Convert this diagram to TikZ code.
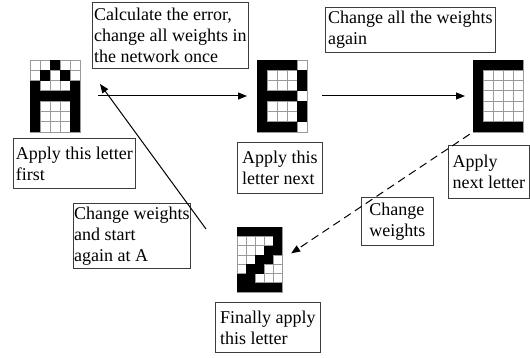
\documentclass[tikz,border=0pt]{standalone}
\usepackage{fontspec}
\setmainfont{Liberation Serif}
\usepackage{xcolor}
\usetikzlibrary{calc,arrows.meta}
\definecolor{ink}{HTML}{000000}
\definecolor{frame}{HTML}{3C3C3C}
\definecolor{cellline}{HTML}{9A9A9A}
\tikzset{
  note/.style={draw=frame, line width=0.8pt, anchor=north west, align=left, inner sep=0pt, text=ink, font=\fontsize{18}{21}\selectfont},
  glyph/.style={inner sep=0pt, outer sep=0pt},
  cell/.style={draw=cellline, line width=0.8pt, fill=white},
  arr/.style={draw=ink, line width=1pt, -{Triangle[length=9pt,width=7pt]}},
  dasharr/.style={arr, dash pattern=on 8pt off 5pt},
}
% 5x7 bitmap over a glyph node: node, cell width, cell height, black cells col/row
\newcommand\bitmap[4]{%
  \begin{scope}[shift={(#1.north west)}]
    \foreach \col in {1,...,5}
      \foreach \row in {1,...,7}
        \draw[cell] ({(\col-1)*#2},{(\row-1)*#3}) rectangle ++(#2,#3);
    \foreach \col/\row in {#4}
      \fill[ink] ({(\col-1)*#2},{(\row-1)*#3}) rectangle ++(#2,#3);
  \end{scope}}

\begin{document}
\begin{tikzpicture}[x=1pt,y=-1pt]
  \fill[white] (0,0) rectangle (530,358);
  \useasboundingbox (0,0) rectangle (530,358);
  % the four letters
  \node[glyph, minimum width=50pt, minimum height=72pt] (letA) at (55,96) {};
  \node[glyph, minimum width=50pt, minimum height=72pt] (letB) at (282,96) {};
  \node[glyph, minimum width=50pt, minimum height=72pt] (letC) at (498,96) {};
  \node[glyph, minimum width=45pt, minimum height=65pt] (letZ) at (259.5,259.5) {};
  \bitmap{letA}{10}{10.3}{3/1, 2/2,4/2, 1/3,5/3, 1/4,2/4,3/4,4/4,5/4, 1/5,5/5, 1/6,5/6, 1/7,5/7}
  \bitmap{letB}{10}{10.3}{1/1,2/1,3/1,4/1, 1/2,5/2, 1/3,5/3, 1/4,2/4,3/4,4/4, 1/5,5/5, 1/6,5/6, 1/7,2/7,3/7,4/7}
  \bitmap{letC}{10}{10.3}{1/1,2/1,3/1,4/1,5/1, 1/2,1/3,1/4,1/5,1/6, 1/7,2/7,3/7,4/7,5/7}
  \bitmap{letZ}{9}{9.3}{1/1,2/1,3/1,4/1,5/1, 5/2, 4/3,5/3, 3/4,4/4, 2/5,3/5, 1/6,2/6, 1/7,2/7,3/7,4/7,5/7}
  % text boxes
  \node[note, minimum width=156pt, minimum height=66pt] (calc) at (92,2) {Calculate the error,\\change all weights in\\the network once};
  \node[note, minimum width=170pt, minimum height=45pt] (again) at (325,7) {Change all the weights\\again};
  \node[note, minimum width=122pt, minimum height=50pt] (first) at (13,138) {Apply this letter\\first};
  \node[note, minimum width=85pt, minimum height=51pt] (next) at (237,142) {Apply this\\letter next};
  \node[note, minimum width=81pt, minimum height=53pt] (nextC) at (448,145) {Apply\\next letter};
  \node[note, minimum width=117pt, minimum height=65pt] (restart) at (73,203) {Change weights\\and start\\again at A};
  \node[note, minimum width=72pt, minimum height=48pt] (change) at (361,197) {Change\\weights};
  \node[note, minimum width=105pt, minimum height=50pt] (final) at (215,302) {Finally apply\\this letter};
  % connectors
  \draw[arr, shorten <=18pt, shorten >=10pt] (letA) -- (letB);
  \draw[arr, shorten <=15pt, shorten >=8pt] (letB) -- (letC);
  \draw[dasharr, shorten <=4pt, shorten >=11pt] (letC.south west) -- (letZ.east);
  \draw[arr] ([xshift=-31pt,yshift=-2pt]letZ.north west) -- ([xshift=20pt,yshift=12pt]letA.east);
\end{tikzpicture}
\end{document}
